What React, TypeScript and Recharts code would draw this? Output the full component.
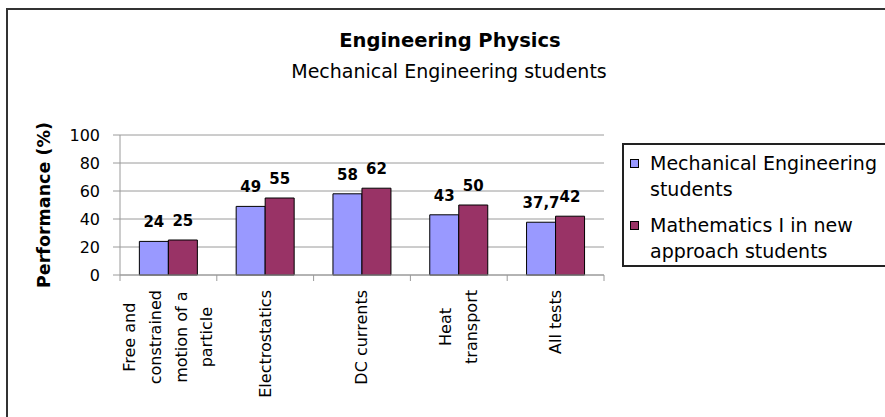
import { BarChart, Bar, XAxis, YAxis, CartesianGrid, Legend, LabelList } from 'recharts';

const categories = [
  'Free and constrained motion of a particle',
  'Electrostatics',
  'DC currents',
  'Heat transport',
  'All tests',
];
const mechanical = [24, 49, 58, 43, 37.7];
const mathNew = [25, 55, 62, 50, 42];
const seriesNames = ['Mechanical Engineering students', 'Mathematics I in new approach students'];
const seriesColors = ['#9999ff', '#993366'];
const yTicks = [0, 20, 40, 60, 80, 100];

const data = categories.map((name, i) => ({ name, mech: mechanical[i], math: mathNew[i] }));

const FONT = '"DejaVu Sans", sans-serif';
const GRID = '#9a9a9a';

// greedy word wrap like excel does for long category names
function wrap(text: string, max = 12) {
  const out: string[] = [];
  let cur = '';
  for (const w of text.split(' ')) {
    if (!cur) cur = w;
    else if ((cur + ' ' + w).length <= max) cur += ' ' + w;
    else {
      out.push(cur);
      cur = w;
    }
  }
  if (cur) out.push(cur);
  return out;
}

let ctx: CanvasRenderingContext2D | null = null;
function textWidth(s: string, size: number) {
  if (!ctx) ctx = document.createElement('canvas').getContext('2d');
  if (!ctx) return s.length * size * 0.55;
  ctx.font = `${size}px "DejaVu Sans"`;
  return ctx.measureText(s).width;
}

function CategoryTick(props: any) {
  const { x, y, payload, index, visibleTicksCount } = props;
  const half = payload.offset || 48.4;
  const lines = wrap(String(payload.value));
  const longest = Math.max(...lines.map(l => textWidth(l, 16)));
  const cy = y + 7 + longest / 2;
  const step = 25.7;
  return (
    <g>
      <line x1={x - half} x2={x - half} y1={y - 8} y2={y - 2} stroke={GRID} />
      {index === visibleTicksCount - 1 && (
        <line x1={x + half} x2={x + half} y1={y - 8} y2={y - 2} stroke={GRID} />
      )}
      {lines.map((l, i) => {
        const lx = x + (i - (lines.length - 1) / 2) * step;
        return (
          <text key={i} x={lx} y={cy} transform={`rotate(-90 ${lx} ${cy})`} textAnchor="middle"
            dominantBaseline="central" fontSize={16} fontFamily={FONT} fill="#000">
            {l}
          </text>
        );
      })}
    </g>
  );
}

function LegendBox(props: any) {
  const payload = [...(props.payload || [])].sort(
    (a: any, b: any) => seriesNames.indexOf(a.value) - seriesNames.indexOf(b.value),
  );
  return (
    <div style={{
      width: 290, height: 124, boxSizing: 'border-box', border: '2px solid #222', background: '#fff',
      padding: '6px 0 0 6px', fontFamily: FONT, fontSize: 19, color: '#000', textAlign: 'left',
    }}>
      {payload.map((p: any, i: number) => (
        <div key={i} style={{ display: 'flex', alignItems: 'flex-start', marginTop: i ? 11 : 0 }}>
          <span style={{
            width: 9, height: 9, boxSizing: 'border-box', border: '1px solid #000', background: p.color,
            marginTop: 8, marginRight: 11, flex: 'none',
          }} />
          <span style={{ width: 233, lineHeight: '25.5px' }}>{p.value}</span>
        </div>
      ))}
    </div>
  );
}

const fmt = (v: any) => String(v).replace('.', ',');

export default function App() {
  return (
    <div style={{ position: 'absolute', left: 0, top: 0, width: 885, height: 417, overflow: 'hidden', background: '#fff' }}>
      <div style={{
        position: 'absolute', left: 6, top: 8, width: 900, height: 430,
        borderLeft: '2px solid #333', borderTop: '2px solid #333',
      }} />
      <div style={{ position: 'absolute', left: 0, top: 0 }}>
        <BarChart width={885} height={417} data={data} margin={{ top: 135, right: 281, bottom: 0, left: 0 }}
          barCategoryGap="20%" barGap={0}>
          <CartesianGrid vertical={false} stroke={GRID} />
          <XAxis dataKey="name" interval={0} height={142} axisLine={{ stroke: GRID }} tickLine={false}
            tickSize={6} tick={<CategoryTick />} />
          <YAxis domain={[0, 100]} ticks={yTicks} width={120} axisLine={{ stroke: GRID }}
            tickLine={{ stroke: GRID }} tickSize={7} tickMargin={13}
            tick={{ fill: '#000', fontSize: 16, fontFamily: FONT }}
            label={{
              content: () => (
                <text x={44} y={205} transform="rotate(-90 44 205)" textAnchor="middle" dominantBaseline="central"
                  fontSize={17.5} fontWeight="bold" fontFamily={FONT} fill="#000">
                  Performance (%)
                </text>
              ),
            }} />
          <YAxis yAxisId="frame" orientation="right" width={0} domain={[0, 100]} tick={false} tickLine={false}
            axisLine={{ stroke: GRID }} />
          <Legend layout="horizontal" align="center" verticalAlign="middle" content={<LegendBox />}
            wrapperStyle={{ left: 622, top: 143, width: 290 }} />
          <Bar dataKey="mech" name={seriesNames[0]} fill={seriesColors[0]} stroke="#000" strokeWidth={1}
            isAnimationActive={false}>
            <LabelList dataKey="mech" position="top" offset={14} formatter={fmt} fill="#000" fontSize={15}
              fontWeight="bold" fontFamily={FONT} />
          </Bar>
          <Bar dataKey="math" name={seriesNames[1]} fill={seriesColors[1]} stroke="#000" strokeWidth={1}
            isAnimationActive={false}>
            <LabelList dataKey="math" position="top" offset={14} formatter={fmt} fill="#000" fontSize={15}
              fontWeight="bold" fontFamily={FONT} />
          </Bar>
        </BarChart>
      </div>
      <svg width={885} height={417} style={{ position: 'absolute', left: 0, top: 0, pointerEvents: 'none' }}>
        <text x={450} y={47} textAnchor="middle" fontSize={19.5} fontWeight="bold" fontFamily={FONT} fill="#000">
          Engineering Physics
        </text>
        <text x={449} y={78} textAnchor="middle" fontSize={19} fontFamily={FONT} fill="#000">
          Mechanical Engineering students
        </text>
      </svg>
    </div>
  );
}
